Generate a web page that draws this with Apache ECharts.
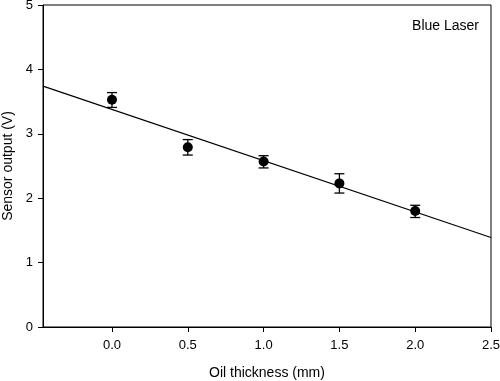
<!DOCTYPE html>
<html>
<head>
<meta charset="utf-8">
<script src="https://cdn.jsdelivr.net/npm/echarts@6/dist/echarts.min.js"></script>
<style>html,body{margin:0;padding:0;background:#fff}#c{width:500px;height:381px}</style>
</head>
<body>
<div id="c"></div>
<script>
var thickness = [0.0, 0.5, 1.0, 1.5, 2.0];
var sensorOutput = [3.53, 2.79, 2.57, 2.23, 1.80];
var errorLow = [3.41, 2.67, 2.47, 2.08, 1.70];
var errorHigh = [3.64, 2.91, 2.66, 2.38, 1.89];
var fitX = [-0.455, 2.5];
var fitY = [3.74, 1.39];
var xTicks = ['0.0', '0.5', '1.0', '1.5', '2.0', '2.5'];

var font = 'Liberation Sans, Arial, sans-serif';
var chart = echarts.init(document.getElementById('c'));
chart.setOption({
  animation: false,
  backgroundColor: '#fff',
  grid: {left: 43, right: 9, top: 5, bottom: 54, show: true, borderColor: '#000', borderWidth: 1,
    containLabel: false, outerBoundsMode: 'none'},
  xAxis: {
    type: 'value', min: -0.455, max: 2.5, interval: 0.5,
    name: 'Oil thickness (mm)', nameLocation: 'middle', nameGap: 39,
    nameTextStyle: {fontFamily: font, fontSize: 14, color: '#000'},
    axisLine: {onZero: false, lineStyle: {color: '#000', width: 1}},
    axisTick: {show: true, length: 5, lineStyle: {color: '#000'},
      customValues: [0, 0.5, 1.0, 1.5, 2.0, 2.5]},
    axisLabel: {fontFamily: font, fontSize: 13, color: '#000', margin: 12,
      customValues: [0, 0.5, 1.0, 1.5, 2.0, 2.5],
      formatter: function (v) { var i = Math.round(v / 0.5); return (i >= 0 && i < xTicks.length) ? xTicks[i] : ''; }},
    splitLine: {show: false}
  },
  yAxis: {
    type: 'value', min: 0, max: 5, interval: 1,
    name: 'Sensor output (V)', nameLocation: 'middle', nameGap: 22,
    nameTextStyle: {fontFamily: font, fontSize: 14, color: '#000'},
    axisLine: {show: true, onZero: false, lineStyle: {color: '#000', width: 1}},
    axisTick: {show: true, length: 5, lineStyle: {color: '#000'}},
    axisLabel: {fontFamily: font, fontSize: 13, color: '#000', margin: 10},
    splitLine: {show: false}
  },
  graphic: [{
    type: 'text', right: 21, top: 19,
    style: {text: 'Blue Laser', fontFamily: font, fontSize: 14, fill: '#000'}
  }],
  series: [
    {
      type: 'line', data: fitX.map(function (x, i) { return [x, fitY[i]]; }),
      showSymbol: false, symbol: 'none', lineStyle: {color: '#000', width: 1.2}, z: 2
    },
    {
      type: 'custom',
      data: thickness.map(function (x, i) { return [x, errorLow[i], errorHigh[i]]; }),
      renderItem: function (params, api) {
        var lo = api.coord([api.value(0), api.value(1)]);
        var hi = api.coord([api.value(0), api.value(2)]);
        var w = 5;
        var st = {stroke: '#000', lineWidth: 1.3};
        return {type: 'group', children: [
          {type: 'line', shape: {x1: hi[0], y1: hi[1], x2: lo[0], y2: lo[1]}, style: st},
          {type: 'line', shape: {x1: hi[0] - w, y1: hi[1], x2: hi[0] + w, y2: hi[1]}, style: st},
          {type: 'line', shape: {x1: lo[0] - w, y1: lo[1], x2: lo[0] + w, y2: lo[1]}, style: st}
        ]};
      },
      z: 3
    },
    {
      type: 'scatter', data: thickness.map(function (x, i) { return [x, sensorOutput[i]]; }),
      symbol: 'circle', symbolSize: 10, itemStyle: {color: '#000', opacity: 1}, z: 4
    }
  ]
});
</script>
</body>
</html>
